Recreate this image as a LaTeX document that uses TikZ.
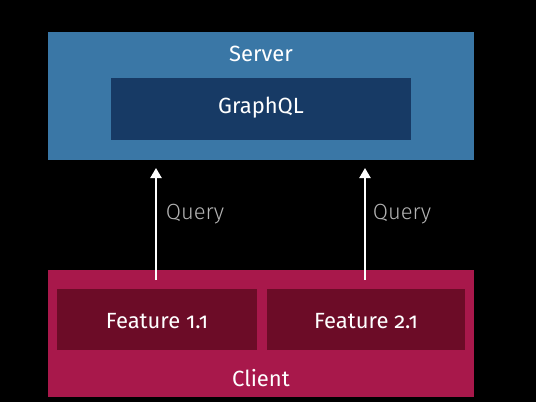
\documentclass[tikz,border=0pt]{standalone}
\usepackage{fontspec}
\setmainfont{Fira Sans}[Numbers=OldStyle]
\newfontfamily\lightfont{Fira Sans Light}[Numbers=OldStyle]
\usetikzlibrary{arrows.meta}
\definecolor{serverblue}{HTML}{3A77A6}
\definecolor{gqlblue}{HTML}{173A65}
\definecolor{clientred}{HTML}{A8184B}
\definecolor{featred}{HTML}{6C0C27}
\definecolor{querygray}{HTML}{B4B4B4}
\begin{document}
\begin{tikzpicture}[x=1pt,y=-1pt,
  box/.style={draw=none,anchor=north west,inner sep=0pt},
  lbl/.style={text=white,font=\fontsize{22}{26}\selectfont},
  qlbl/.style={text=querygray,font=\lightfont\fontsize{22}{26}\selectfont},
  flow/.style={draw=white,line width=2.2pt,-{Triangle[width=11pt,length=10pt]}}]
  % background
  \fill[black] (0,0) rectangle (536,402);
  \useasboundingbox (0,0) rectangle (536,402);
  % server side
  \fill[serverblue] (48,32) rectangle (474,160);
  \node[box,minimum width=426pt,minimum height=128pt] (server) at (48,32) {};
  \fill[gqlblue] (111,78) rectangle (411,140);
  \node[box,minimum width=300pt,minimum height=62pt] (gql) at (111,78) {};
  \node[lbl] (servertxt) at (261,54) {Server};
  \node[lbl] (gqltxt) at (261,108) {GraphQL};
  % client side
  \fill[clientred] (48,270) rectangle (474,397);
  \node[box,minimum width=426pt,minimum height=127pt] (client) at (48,270) {};
  \fill[featred] (57,289) rectangle (257,350);
  \node[box,minimum width=200pt,minimum height=61pt] (f1) at (57,289) {};
  \fill[featred] (267,289) rectangle (465,350);
  \node[box,minimum width=198pt,minimum height=61pt] (f2) at (267,289) {};
  \node[lbl] (f1txt) at (157,321) {Feature 1.1};
  \node[lbl] (f2txt) at (366,321) {Feature 2.1};
  \node[lbl] (clienttxt) at (261,378) {Client};
  % queries
  \coordinate (a1s) at (156,280);
  \coordinate (a1e) at (156,168);
  \coordinate (a2s) at (365,280);
  \coordinate (a2e) at (365,168);
  \draw[flow] (a1s) -- (a1e);
  \draw[flow] (a2s) -- (a2e);
  \node[qlbl] (q1) at (195,214) {Query};
  \node[qlbl] (q2) at (402,214) {Query};
\end{tikzpicture}
\end{document}
